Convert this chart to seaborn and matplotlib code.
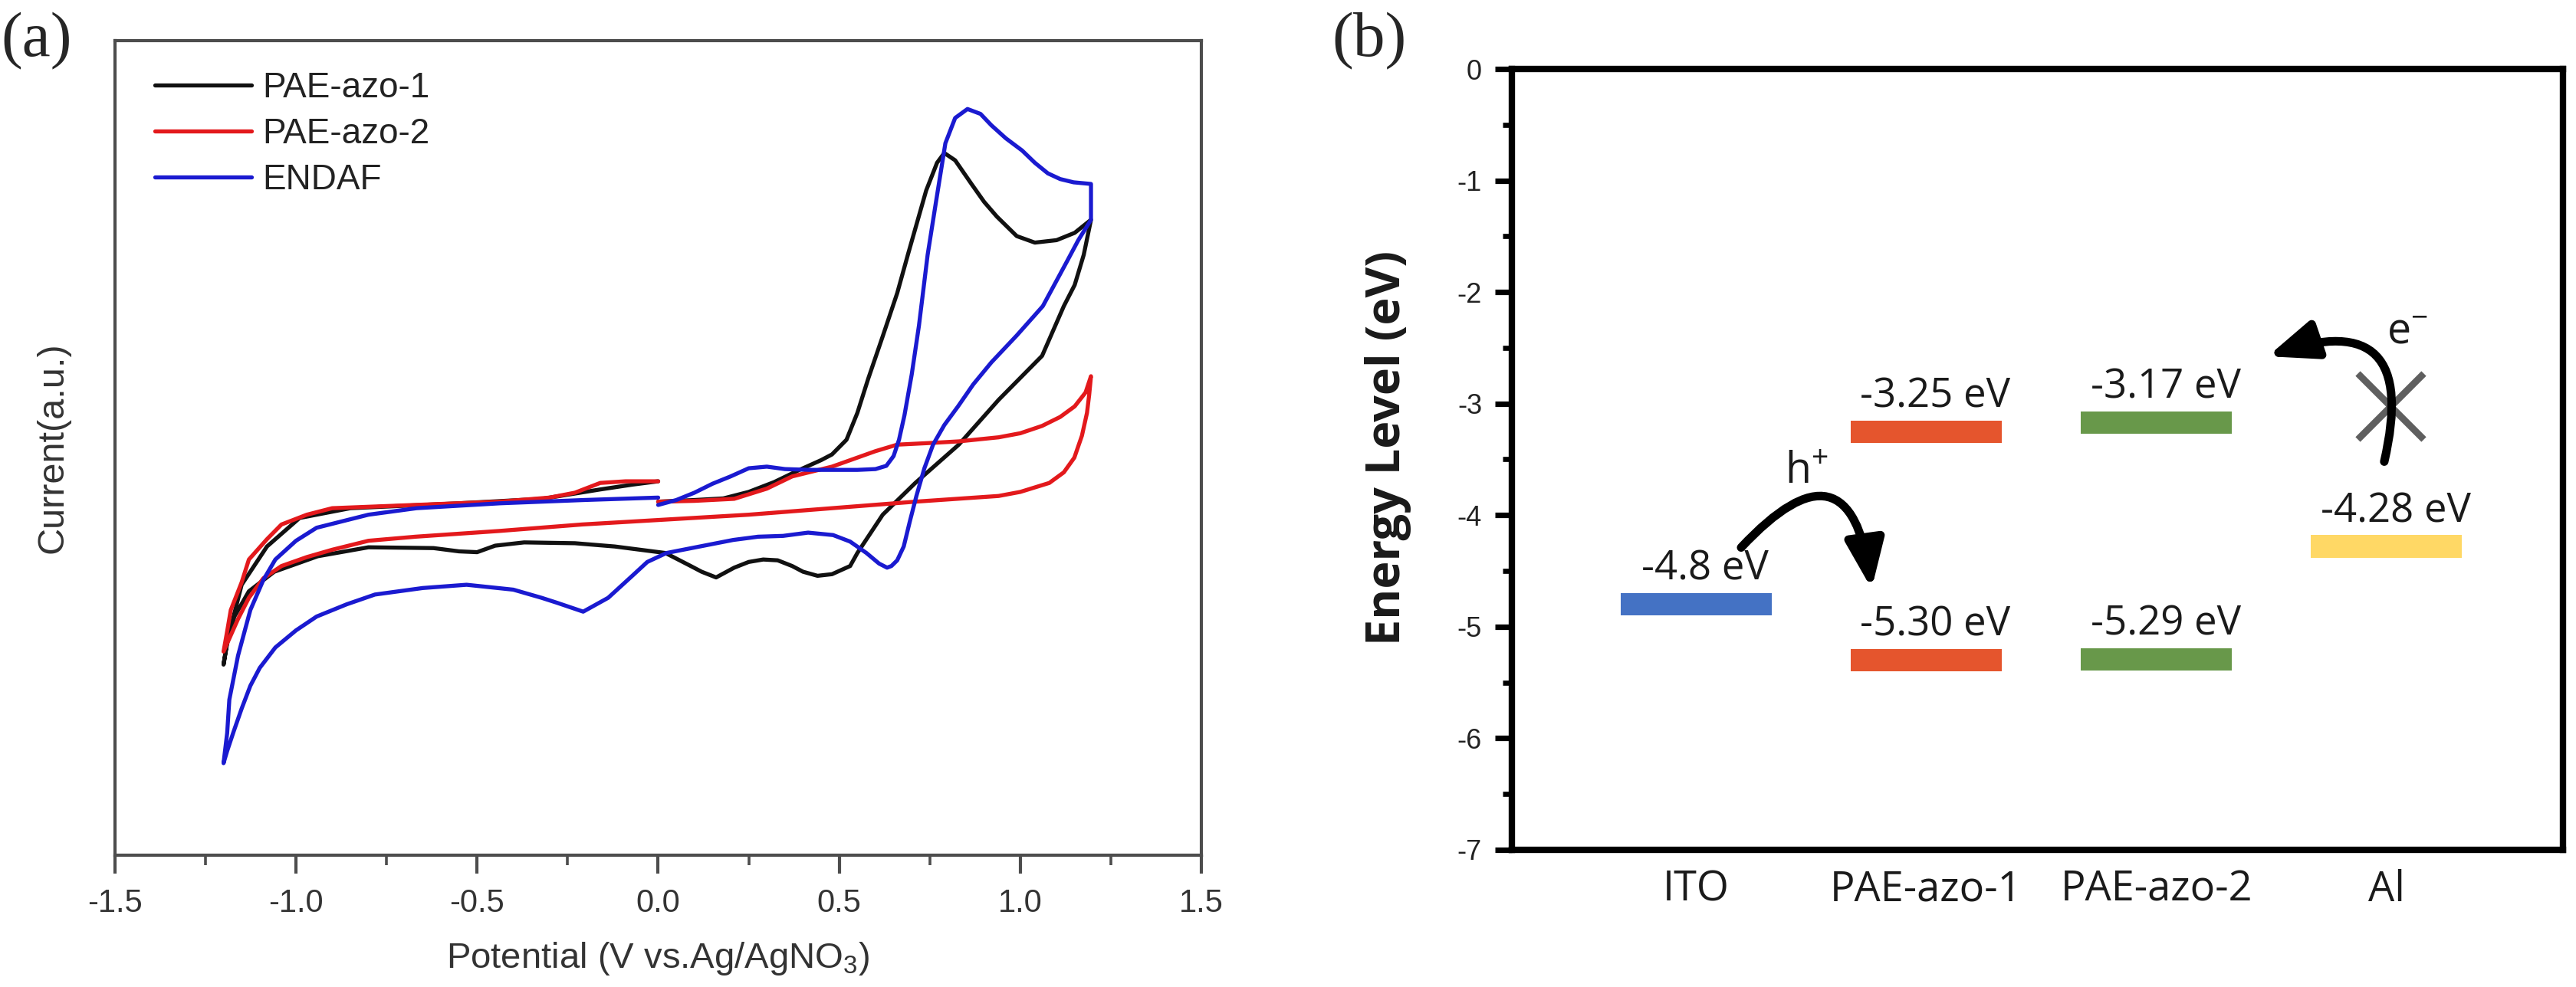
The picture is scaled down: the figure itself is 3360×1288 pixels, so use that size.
import numpy as np
import pandas as pd
import matplotlib
matplotlib.use("Agg")
import matplotlib.pyplot as plt
from matplotlib.ticker import MultipleLocator
import seaborn as sns

# (a) cyclic voltammograms, current in arbitrary units (0-100 = axis height)
pae1_v = [0.00, 0.10, 0.18, 0.25, 0.32, 0.39, 0.45, 0.48, 0.52, 0.55, 0.58, 0.62, 0.66, 0.69, 0.74, 0.77,
          0.79, 0.82, 0.865, 0.90, 0.935, 0.99, 1.04, 1.10, 1.15, 1.195,
          1.175, 1.15, 1.12, 1.06, 0.94, 0.83, 0.71, 0.62, 0.55, 0.53, 0.48, 0.44, 0.40, 0.37, 0.33, 0.29,
          0.25, 0.21, 0.16, 0.12, 0.09, 0.02, -0.12, -0.23, -0.37, -0.45, -0.50, -0.55, -0.62, -0.80,
          -0.94, -1.06, -1.13, -1.17, -1.19, -1.20,
          -1.19, -1.15, -1.08, -0.99, -0.85, -0.55, -0.32, -0.16, -0.07, 0.00]
pae1_i = [43.4, 43.6, 43.8, 44.6, 45.8, 47.3, 48.5, 49.2, 51.0, 54.3, 58.5, 63.7, 69.0, 73.8, 81.6, 85.0,
          86.2, 85.3, 82.4, 80.2, 78.4, 76.0, 75.2, 75.5, 76.4, 78.0,
          73.7, 70.0, 67.4, 61.3, 55.9, 50.4, 45.7, 41.8, 37.1, 35.5, 34.5, 34.3, 34.8, 35.5, 36.2, 36.3,
          36.0, 35.3, 34.1, 34.8, 35.5, 37.1, 37.9, 38.3, 38.4, 38.0, 37.2, 37.3, 37.7, 37.8,
          36.7, 34.8, 32.4, 29.3, 26.0, 23.4,
          26.2, 33.2, 37.9, 41.4, 42.6, 43.2, 43.75, 44.9, 45.5, 45.9]

pae2_v = [0.00, 0.10, 0.21, 0.30, 0.37, 0.48, 0.60, 0.66, 0.75, 0.83, 0.94, 1.00, 1.06, 1.11, 1.15, 1.18, 1.195,
          1.19, 1.184, 1.17, 1.149, 1.12, 1.08, 1.00, 0.94, 0.71, 0.48, 0.25, 0.02, -0.21, -0.44, -0.67,
          -0.80, -0.90, -0.97, -1.04, -1.09, -1.13, -1.16, -1.18, -1.20,
          -1.19, -1.18, -1.15, -1.13, -1.08, -1.04, -0.97, -0.90, -0.67, -0.44, -0.30, -0.23, -0.16, -0.09, 0.00]
pae2_i = [43.4, 43.5, 43.75, 45.0, 46.5, 47.7, 49.6, 50.4, 50.6, 50.8, 51.3, 51.8, 52.7, 53.8, 55.1, 56.8, 58.8,
          56.5, 54.3, 51.5, 48.8, 47.0, 45.7, 44.6, 44.1, 43.4, 42.6, 41.8, 41.2, 40.6, 39.8, 39.1,
          38.6, 37.5, 36.6, 35.5, 34.0, 31.6, 29.0, 27.0, 25.0,
          27.5, 30.1, 33.5, 36.3, 38.8, 40.6, 41.8, 42.6, 43.0, 43.4, 43.9, 44.5, 45.7, 45.9, 45.9]

endaf_v = [0.00, 0.05, 0.10, 0.15, 0.20, 0.25, 0.30, 0.35, 0.42, 0.48, 0.55, 0.60, 0.63, 0.65, 0.665, 0.68,
           0.70, 0.72, 0.744, 0.766, 0.793, 0.82, 0.854, 0.89, 0.92, 0.96, 1.005, 1.04, 1.076, 1.11, 1.147,
           1.195, 1.195,
           1.16, 1.13, 1.062, 0.99, 0.92, 0.87, 0.828, 0.79, 0.759, 0.735, 0.713, 0.695, 0.678, 0.66, 0.644,
           0.632, 0.61, 0.575, 0.53, 0.483, 0.414, 0.345, 0.276, 0.207, 0.115, 0.023, -0.03, -0.069, -0.138,
           -0.207, -0.28, -0.322, -0.40, -0.529, -0.65, -0.782, -0.86, -0.943, -1.00, -1.057, -1.10, -1.126,
           -1.15, -1.172, -1.19, -1.20,
           -1.19, -1.184, -1.16, -1.126, -1.09, -1.057, -1.00, -0.943, -0.80, -0.667, -0.437, -0.207, 0.00]
endaf_i = [43.0, 43.6, 44.5, 45.6, 46.5, 47.5, 47.7, 47.4, 47.3, 47.3, 47.3, 47.4, 47.8, 49.0, 51.0, 54.0,
           59.0, 65.0, 73.7, 79.9, 87.4, 90.5, 91.6, 91.0, 89.6, 88.0, 86.5, 85.0, 83.7, 83.0, 82.6,
           82.4, 78.0,
           75.5, 73.0, 67.4, 63.8, 60.5, 57.8, 55.1, 52.8, 50.4, 47.5, 44.1, 41.0, 37.9, 36.2, 35.5,
           35.3, 35.8, 37.1, 38.5, 39.3, 39.6, 39.2, 39.1, 38.7, 37.9, 37.1, 36.0, 34.4, 31.6,
           29.9, 31.0, 31.6, 32.6, 33.2, 32.8, 32.0, 30.8, 29.3, 27.6, 25.5, 23.0, 20.8,
           18.0, 15.2, 12.8, 11.3,
           15.0, 19.1, 24.5, 30.1, 33.8, 36.3, 38.6, 40.2, 41.8, 42.6, 43.2, 43.6, 43.9]

sample_names = ["PAE-azo-1", "PAE-azo-2", "ENDAF"]
sample_colors = ["#111111", "#e3191c", "#1a1ad0"]

# (b) energy level diagram
categories = ["ITO", "PAE-azo-1", "PAE-azo-2", "Al"]
level_material = ["ITO", "PAE-azo-1", "PAE-azo-1", "PAE-azo-2", "PAE-azo-2", "Al"]
level_energy = [-4.8, -3.25, -5.30, -3.17, -5.29, -4.28]
level_labels = ["-4.8 eV", "-3.25 eV", "-5.30 eV", "-3.17 eV", "-5.29 eV", "-4.28 eV"]
level_colors = ["#4472c4", "#e5552d", "#e5552d", "#68984a", "#68984a", "#ffd865"]

sns.set_theme(style="white")
plt.rcParams["font.family"] = ["Liberation Sans", "DejaVu Sans"]
plt.rcParams["axes.unicode_minus"] = False
plt.rcParams["mathtext.default"] = "regular"

fig = plt.figure(figsize=(16.8, 6.44), dpi=200)
fig.patch.set_facecolor("white")

# ---------------- panel (a) ----------------
ax1 = fig.add_axes([0.0446, 0.1335, 0.4218, 0.8254])
frames = []
for name, v, i in zip(sample_names, [pae1_v, pae2_v, endaf_v], [pae1_i, pae2_i, endaf_i]):
    frames.append(pd.DataFrame({"potential": v, "current": i, "sample": name}))
cv = pd.concat(frames, ignore_index=True)

sns.lineplot(data=cv, x="potential", y="current", hue="sample", hue_order=sample_names,
             palette=dict(zip(sample_names, sample_colors)), sort=False, estimator=None,
             lw=1.9, ax=ax1)
sns.move_legend(ax1, "upper left", bbox_to_anchor=(0.037, 0.962), frameon=False, title=None,
                fontsize=16.5, handlelength=2.75, handletextpad=0.3, labelspacing=0.35,
                borderaxespad=0, borderpad=0)
for t in ax1.get_legend().get_texts():
    t.set_color("#222222")

ax1.set_xlim(-1.5, 1.5)
ax1.set_ylim(0, 100)
ax1.set_xticks(np.arange(-1.5, 1.51, 0.5))
ax1.set_xticklabels([f"{t:.1f}" for t in np.arange(-1.5, 1.51, 0.5)])
ax1.xaxis.set_minor_locator(MultipleLocator(0.25))
ax1.set_yticks([])
ax1.tick_params(axis="x", which="major", bottom=True, direction="out", length=8.6, width=1.5,
                color="#4d4d4d", pad=7, labelsize=15, labelcolor="#333333")
ax1.tick_params(axis="x", which="minor", bottom=True, direction="out", length=4.7, width=1.3,
                color="#4d4d4d")
for s in ax1.spines.values():
    s.set_color("#4d4d4d")
    s.set_linewidth(1.5)
ax1.set_xlabel("Potential (V vs.Ag/AgNO$_3$)", fontsize=17, color="#333333", labelpad=10)
ax1.set_ylabel("Current(a.u.)", fontsize=17.5, color="#333333")
ax1.yaxis.set_label_coords(-0.041, 0.5)

# ---------------- panel (b) ----------------
ax2 = fig.add_axes([0.5869, 0.1390, 0.4080, 0.7911])
label_font = ["Open Sans", "DejaVu Sans"]
bar_h = 0.2
bar_w = 0.656
pos = {c: k for k, c in enumerate(categories)}
for name, e, lab, col in zip(level_material, level_energy, level_labels, level_colors):
    x = pos[name]
    ax2.bar(x, bar_h, bottom=e - bar_h / 2, width=bar_w, color=col, edgecolor="none")
    ax2.text(x + 0.04, e + bar_h / 2 + 0.12, lab, ha="center", va="baseline", fontsize=19,
             family=label_font, color="#1a1a1a")

# hole injection arrow ITO -> PAE-azo-1
ax2.annotate("", xy=(0.763, -4.66), xytext=(0.196, -4.29),
             arrowprops=dict(arrowstyle="-|>,head_length=0.95,head_width=0.38", mutation_scale=20,
                             connectionstyle="arc3,rad=-1.05", lw=4, color="black",
                             shrinkA=0, shrinkB=0))
ax2.text(0.48, -3.62, "h$^{+}$", ha="center", va="center", fontsize=20, family=label_font,
         color="#1a1a1a")

# blocked electron arrow Al -> PAE-azo-2
ax2.annotate("", xy=(2.484, -2.576), xytext=(2.99, -3.52),
             arrowprops=dict(arrowstyle="-|>,head_length=0.95,head_width=0.38", mutation_scale=20,
                             connectionstyle="arc3,rad=0.9", lw=4, color="black",
                             shrinkA=0, shrinkB=0))
ax2.plot([3.017], [-3.02], marker="x", markersize=31, mew=3.2, color="#5f5f5f")
ax2.text(3.09, -2.36, "e$^{-}$", ha="center", va="center", fontsize=20, family=label_font,
         color="#1a1a1a")

ax2.set_xlim(-0.80, 3.766)
ax2.set_ylim(-7, 0)
ax2.set_xticks(range(len(categories)))
ax2.set_xticklabels(categories, fontsize=19.5, family=label_font, color="#1a1a1a")
ax2.set_yticks(range(-7, 1))
ax2.set_yticklabels([str(t) for t in range(-7, 1)], fontsize=13, color="#222222")
ax2.yaxis.set_minor_locator(MultipleLocator(0.5))
ax2.tick_params(axis="x", which="both", bottom=False, length=0, pad=9)
ax2.tick_params(axis="y", which="major", left=True, direction="out", length=8, width=2.6,
                color="black", pad=6)
ax2.tick_params(axis="y", which="minor", left=True, direction="out", length=4.3, width=2.4,
                color="black")
for s in ax2.spines.values():
    s.set_color("black")
    s.set_linewidth(3)
ax2.set_ylabel("Energy Level (eV)", fontsize=22, fontweight="bold", family=label_font,
               color="#1a1a1a")
ax2.yaxis.set_label_coords(-0.0955, 0.515)

# panel letters
fig.text(0.0005, 1 - 16 / 1288, "(a)", ha="left", va="top", fontsize=30,
         family=["Liberation Serif", "DejaVu Serif"])
fig.text(0.517, 1 - 16 / 1288, "(b)", ha="left", va="top", fontsize=30,
         family=["Liberation Serif", "DejaVu Serif"])

fig.savefig("out.png", dpi=200, facecolor="white")
